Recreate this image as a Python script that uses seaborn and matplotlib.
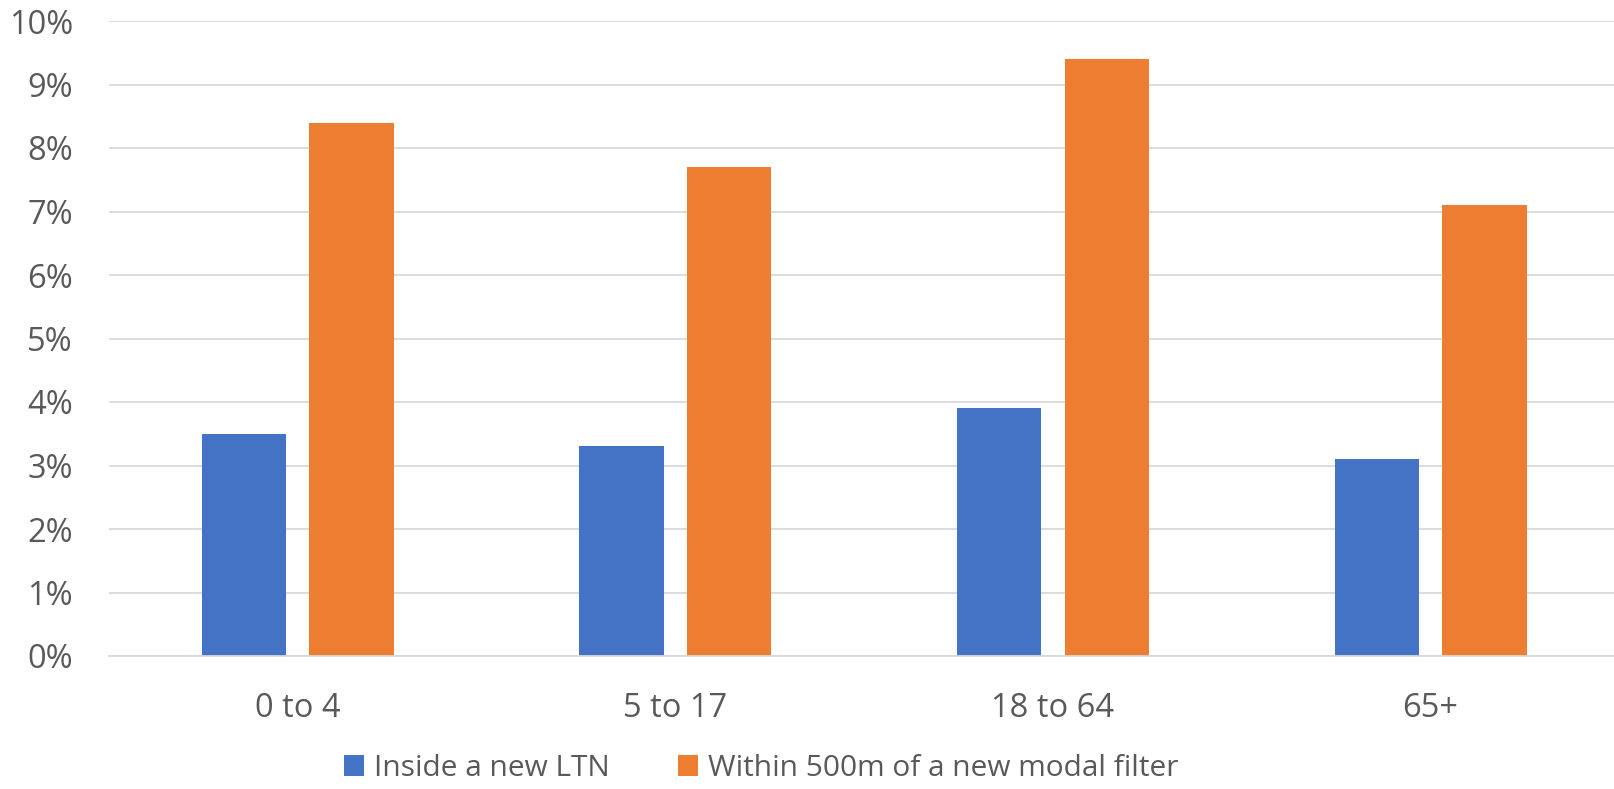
import matplotlib
matplotlib.use("Agg")
import matplotlib.pyplot as plt
import seaborn as sns
import pandas as pd
from matplotlib.ticker import FuncFormatter

categories = ["0 to 4", "5 to 17", "18 to 64", "65+"]
series_names = ["Inside a new LTN", "Within 500m of a new modal filter"]
inside_ltn = [3.5, 3.3, 3.9, 3.1]
within_500m = [8.4, 7.7, 9.4, 7.1]
y_ticks = [0, 1, 2, 3, 4, 5, 6, 7, 8, 9, 10]

colors = ["#4472C4", "#ED7D31"]
text_color = "#595959"
grid_color = "#D9D9D9"

df = pd.DataFrame({
    "age": categories * 2,
    "series": [series_names[0]] * len(categories) + [series_names[1]] * len(categories),
    "value": inside_ltn + within_500m,
})

sns.set_theme(style="white")
plt.rcParams["font.family"] = ["Open Sans", "DejaVu Sans"]

W, H = 1614, 789
fig = plt.figure(figsize=(W / 100, H / 100), dpi=100)
left = 109 / W
right = 1619.4 / W
bottom = (H - 656) / H
top = 1 - 21 / H
ax = fig.add_axes([left, bottom, right - left, top - bottom])

sns.barplot(data=df, x="age", y="value", hue="series", order=categories,
            hue_order=series_names, palette=colors, width=0.57, gap=0.217,
            linewidth=0, saturation=1, ax=ax, legend=True)

ax.set_xlim(-0.5, len(categories) - 0.5)
ax.set_ylim(0, 10)
ax.set_yticks(y_ticks)
ax.yaxis.set_major_formatter(FuncFormatter(lambda v, p: f"{int(round(v))}%"))
ax.grid(axis="y", color=grid_color, linewidth=1.3)
ax.set_axisbelow(True)
for s in ["top", "right", "left"]:
    ax.spines[s].set_visible(False)
ax.spines["bottom"].set_color(grid_color)
ax.spines["bottom"].set_linewidth(1.3)
ax.set_xlabel("")
ax.set_ylabel("")
ax.tick_params(axis="y", length=0, pad=26, labelsize=23.5, labelcolor=text_color)
ax.tick_params(axis="x", length=0, pad=26, labelsize=23.5, labelcolor=text_color)

handles, labels = ax.get_legend_handles_labels()
ax.get_legend().remove()
fig.legend(handles, labels, loc="center", bbox_to_anchor=(0.4718, 0.026),
           ncol=2, frameon=False, fontsize=21.5, labelcolor=text_color,
           handlelength=0.65, handleheight=0.7, handletextpad=0.35,
           columnspacing=2.3, borderpad=0, borderaxespad=0)

fig.savefig("out.png", dpi=100)
